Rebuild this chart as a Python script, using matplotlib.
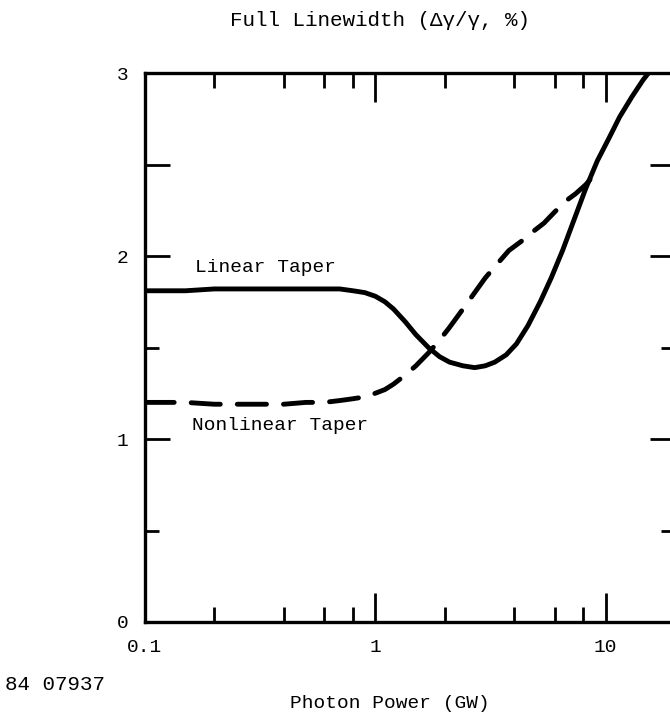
import numpy as np
import matplotlib.pyplot as plt

plt.rcParams['font.family'] = ['Liberation Mono', 'DejaVu Sans Mono']

# photon power (GW) vs full linewidth (%)
linear_x = [0.1, 0.15, 0.2, 0.3, 0.4, 0.5, 0.6, 0.7, 0.8, 0.9, 1.0, 1.1, 1.2, 1.35, 1.5,
            1.7, 1.9, 2.1, 2.4, 2.7, 3.0, 3.3, 3.7, 4.1, 4.6, 5.2, 5.8, 6.5, 7.3, 8.2,
            9.2, 10.3, 11.5, 13.0, 14.5, 16.0]
linear_y = [1.81, 1.81, 1.82, 1.82, 1.82, 1.82, 1.82, 1.82, 1.81, 1.80, 1.78, 1.75, 1.71,
            1.64, 1.57, 1.50, 1.45, 1.42, 1.40, 1.39, 1.40, 1.42, 1.46, 1.52, 1.62, 1.75,
            1.88, 2.03, 2.20, 2.37, 2.52, 2.64, 2.76, 2.87, 2.96, 3.03]

nonlin_x = [0.1, 0.15, 0.2, 0.3, 0.4, 0.5, 0.6, 0.7, 0.8, 0.9, 1.0, 1.1, 1.2, 1.35, 1.5,
            1.7, 1.9, 2.1, 2.4, 2.7, 3.0, 3.4, 3.8, 4.3, 4.8, 5.4, 6.0, 6.7, 7.4, 8.2, 9.0]
nonlin_y = [1.20, 1.20, 1.19, 1.19, 1.19, 1.20, 1.20, 1.21, 1.22, 1.23, 1.25, 1.27, 1.30,
            1.35, 1.40, 1.47, 1.54, 1.61, 1.71, 1.80, 1.88, 1.96, 2.03, 2.08, 2.13, 2.18,
            2.24, 2.30, 2.34, 2.39, 2.45]

x_major = [0.1, 1, 10]
x_labels = ['0.1', '1', '10']
x_minor = [0.2, 0.4, 0.6, 0.8, 2, 4, 6, 8]
y_major = [0, 1, 2, 2.5, 3]
y_labels = ['0', '1', '2', '', '3']
y_minor = [0.5, 1.5]

W, H = 670, 716
fig = plt.figure(figsize=(W / 100, H / 100), dpi=100)
ax = fig.add_axes([145 / W, 1 - 622 / H, (675 - 145) / W, (622 - 73) / H])

ax.plot(linear_x, linear_y, color='black', lw=3.5, solid_capstyle='round')
ax.plot(nonlin_x, nonlin_y, color='black', lw=3.5, dashes=(6, 3.5),
        dash_capstyle='round')

ax.set_xscale('log')
ax.set_xlim(0.1, 20)
ax.set_ylim(0, 3)

ax.set_xticks(x_major)
ax.set_xticklabels(x_labels)
ax.set_xticks(x_minor, minor=True)
ax.set_xticklabels([], minor=True)
ax.set_yticks(y_major)
ax.set_yticklabels(y_labels)
ax.set_yticks(y_minor, minor=True)

ax.tick_params(which='both', direction='in', top=True, right=True, width=2.0,
               labelsize=14, colors='black')
ax.tick_params(axis='x', which='major', length=21, pad=12)
ax.tick_params(axis='x', which='minor', length=11)
ax.tick_params(axis='y', which='major', length=18, pad=12)
ax.tick_params(axis='y', which='minor', length=10)

for s in ax.spines.values():
    s.set_linewidth(2.4)

ax.text(0.165, 1.935, 'Linear Taper', fontsize=14, va='center', ha='left')
ax.text(0.16, 1.075, 'Nonlinear Taper', fontsize=14, va='center', ha='left')

fig.text(380 / W, 1 - 21 / H, 'Full Linewidth (\u0394\u03b3/\u03b3, %)', fontsize=15,
         ha='center', va='center')
fig.text(390 / W, 1 - 703 / H, 'Photon Power (GW)', fontsize=14, ha='center',
         va='center')
fig.text(5 / W, 1 - 685 / H, '84 07937', fontsize=15, ha='left', va='center')

fig.savefig('out.png', dpi=100)
